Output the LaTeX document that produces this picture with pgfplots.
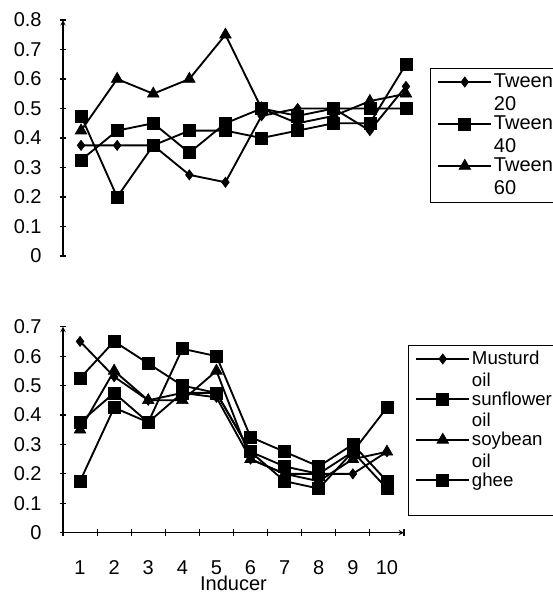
\documentclass[border=0pt]{standalone}
\usepackage{pgfplots}
\pgfplotsset{compat=1.18}
\usepackage{fontspec}
\setmainfont{Liberation Sans}
\begin{document}
\begin{tikzpicture}
\pgfplotsset{
  every axis/.append style={
    scale only axis,
    font=\fontsize{15}{18}\selectfont,
    axis line style={line width=0.8pt,-},
    tick style={line width=0.8pt,black},
    tick align=outside,
    major tick length=5pt,
    minor tick length=5pt,
    /pgf/number format/assume math mode=true,
    /pgf/number format/fixed,
    xmin=0.5, xmax=10.5,
    legend cell align=left,
    clip=false,
    legend style={draw=black, line width=0.8pt,
      nodes={inner sep=1.2pt, align=left}, row sep=0pt, inner xsep=5pt, inner ysep=3pt},
  },
  dia/.style={black, line width=1.4pt, mark=diamond*, mark size=3.8pt, mark options={solid,line width=0.5pt}},
  sq/.style={black, line width=1.4pt, mark=square*, mark size=4.5pt, mark options={solid,line width=0.5pt}},
  tri/.style={black, line width=1.4pt, mark=triangle*, mark size=5pt, mark options={solid,line width=0.5pt}},
}
% ---------------- top panel ----------------
\begin{axis}[
  at={(47.25pt,253.5pt)}, anchor=south west,
  width=270.75pt, height=177pt,
  ymin=0, ymax=0.8,
  ytick={0,0.1,0.2,0.3,0.4,0.5,0.6,0.7,0.8},
  axis y line=left, axis x line=none,
  yticklabel style={xshift=-10pt},
  legend image code/.code={\draw[mark repeat=2,mark phase=2,#1] plot coordinates {(0pt,8.6pt) (20pt,8.6pt) (40pt,8.6pt)};},
  legend style={at={(axis description cs:1.0166,0.7966)}, anchor=north west,
    font=\fontsize{15}{17.25}\selectfont},
]
\addplot[dia] coordinates {(1,0.375) (2,0.375) (3,0.375) (4,0.275) (5,0.25) (6,0.475) (7,0.5) (8,0.5) (9,0.425) (10,0.575)};
\addlegendentry{\makebox[75pt][l]{Tween}\\20}
\addplot[sq] coordinates {(1,0.325) (2,0.425) (3,0.45) (4,0.35) (5,0.45) (6,0.5) (7,0.475) (8,0.5) (9,0.5) (10,0.5)};
\addlegendentry{\makebox[75pt][l]{Tween}\\40}
\addplot[tri] coordinates {(1,0.425) (2,0.6) (3,0.55) (4,0.6) (5,0.75) (6,0.5) (7,0.45) (8,0.475) (9,0.525) (10,0.55)};
\addlegendentry{\makebox[75pt][l]{Tween}\\60}
\addplot[sq, forget plot] coordinates {(1,0.475) (2,0.2) (3,0.375) (4,0.425) (5,0.425) (6,0.4) (7,0.425) (8,0.45) (9,0.45) (10,0.65)};
\end{axis}
% ---------------- bottom panel ----------------
\begin{axis}[
  at={(47.25pt,45.975pt)}, anchor=south west,
  width=255.75pt, height=154.5pt,
  ymin=0, ymax=0.7,
  ytick={0,0.1,0.2,0.3,0.4,0.5,0.6,0.7},
  axis y line=left, axis x line=bottom,
  xtick={1,2,3,4,5,6,7,8,9,10},
  major x tick style={draw=none},
  minor xtick={0.5,1.5,2.5,3.5,4.5,5.5,6.5,7.5,8.5,9.5,10.5},
  yticklabel style={xshift=-10pt},
  xticklabel style={yshift=-15pt},
  xlabel={Inducer},
  xlabel style={yshift=6pt},
  legend image code/.code={\draw[mark repeat=2,mark phase=2,#1] plot coordinates {(0pt,8.15pt) (20pt,8.15pt) (40pt,8.15pt)};},
  legend style={at={(axis description cs:1.0117,0.911)}, anchor=north west,
    font=\fontsize{14}{16.3}\selectfont},
]
\addplot[dia] coordinates {(1,0.65) (2,0.53) (3,0.45) (4,0.475) (5,0.46) (6,0.25) (7,0.2) (8,0.2) (9,0.2) (10,0.275)};
\addlegendentry{\makebox[75pt][l]{Musturd}\\oil}
\addplot[sq] coordinates {(1,0.375) (2,0.475) (3,0.375) (4,0.475) (5,0.475) (6,0.275) (7,0.225) (8,0.2) (9,0.275) (10,0.15)};
\addlegendentry{sunflower\\oil}
\addplot[tri] coordinates {(1,0.35) (2,0.55) (3,0.45) (4,0.45) (5,0.55) (6,0.25) (7,0.2) (8,0.175) (9,0.25) (10,0.275)};
\addlegendentry{soybean\\oil}
\addplot[sq] coordinates {(1,0.525) (2,0.65) (3,0.575) (4,0.5) (5,0.475) (6,0.275) (7,0.175) (8,0.15) (9,0.275) (10,0.425)};
\addlegendentry{ghee\\\strut}
\addplot[sq, forget plot] coordinates {(1,0.175) (2,0.425) (3,0.375) (4,0.625) (5,0.6) (6,0.325) (7,0.275) (8,0.225) (9,0.3) (10,0.175)};
\end{axis}
\pgfresetboundingbox
\useasboundingbox (0,0) rectangle (414.75pt,445.5pt);
\end{tikzpicture}
\end{document}
